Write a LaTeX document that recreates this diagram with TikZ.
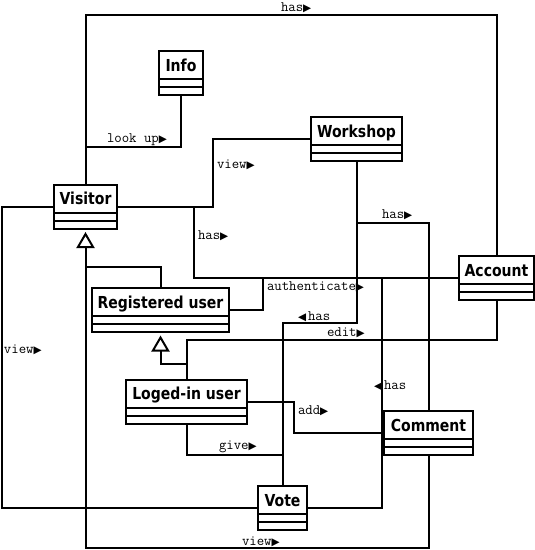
\documentclass[tikz,border=0pt]{standalone}
\usepackage{fontspec}
\usetikzlibrary{arrows.meta}
\newfontfamily\titlefont[FakeStretch=0.85]{DejaVu Sans}
\newfontfamily\symfont{DejaVu Sans}
\newcommand\myR{{\symfont\fontsize{10.5}{11}\selectfont ▶}}
\newcommand\myL{{\symfont\fontsize{10.5}{11}\selectfont ◀}}
\begin{document}
\begin{tikzpicture}[x=1pt,y=-1pt,line width=2pt,
  cls/.style={draw, fill=white, minimum width=#1, minimum height=44pt, inner sep=0pt,
    path picture={\draw[line width=2pt]
      ([yshift=16pt]path picture bounding box.south west) -- ([yshift=16pt]path picture bounding box.south east)
      ([yshift=8pt]path picture bounding box.south west) -- ([yshift=8pt]path picture bounding box.south east);}},
  ttl/.style={font=\titlefont\bfseries\fontsize{16.5}{18}\selectfont, inner sep=0pt, text height=12pt, text depth=0pt},
  gen/.style={-{Triangle[open, length=16pt, width=18pt]}, shorten >=2.5pt},
  lbl/.style={font=\ttfamily\fontsize{14.4}{16}\selectfont, inner sep=0pt, anchor=base west}]
\fill[white] (0,0) rectangle (535,550);
\useasboundingbox (0,0) rectangle (535,550);
% classes
\node[cls=44pt] (info) at (181,73) {};
\node[cls=63pt] (vis) at (85.5,206.5) {};
\node[cls=91pt] (ws) at (356.5,139) {};
\node[cls=75pt] (acc) at (496.5,278) {};
\node[cls=137pt] (reg) at (160.5,310) {};
\node[cls=121pt] (log) at (186.5,401.5) {};
\node[cls=89pt] (com) at (428.5,433) {};
\node[cls=49pt] (vote) at (282.5,508) {};
\node[ttl] (infoT) at ([yshift=-15pt]info.north) {Info};
\node[ttl] (visT) at ([yshift=-15pt]vis.north) {Visitor};
\node[ttl] (wsT) at ([yshift=-15pt]ws.north) {Workshop};
\node[ttl] (accT) at ([yshift=-15pt]acc.north) {Account};
\node[ttl] (regT) at ([yshift=-15pt]reg.north) {Registered user};
\node[ttl] (logT) at ([yshift=-15pt]log.north) {Loged-in user};
\node[ttl] (comT) at ([yshift=-15pt]com.north) {Comment};
\node[ttl] (voteT) at ([yshift=-15pt]vote.north) {Vote};
% connectors
\draw (vis.north) |- (acc.north |- 0,15) -- (acc.north);
\draw (info.south) |- (vis.north |- 0,147);
\draw (vis.east) -- (vis.east -| 213,0) |- (ws.west);
\draw (vis.east) -- (vis.east -| 194,0) |- (acc.west);
\draw (reg.east) -- (reg.east -| 263,0) |- (acc.west);
\draw (ws.south) |- (com.north |- 0,223) -- (com.north);
\draw (ws.south) -- (ws.south |- 0,323) -| (vote.north);
\draw (log.north) |- (acc.south |- 0,340) -- (acc.south);
\draw[gen] (log.north) |- (reg.south |- 0,364) -- (reg.south);
\draw[gen] (reg.north) |- (vis.south |- 0,267) -- (vis.south);
\draw (com.south) |- (vis.south |- 0,548) -- (vis.south |- 0,267);
\draw (vis.west) -- (vis.west -| 2,0) |- (vote.west);
\draw (log.east) -- (log.east -| 294,0) |- (com.west);
\draw (log.south) |- (vote.north |- 0,455);
\draw (vote.east) -- (vote.east -| 382,0) |- (acc.west);
% labels
\node[lbl] (l1) at (280,11) {has\myR};
\node[lbl] (l2) at (106,142) {look up\myR};
\node[lbl] (l3) at (216,168) {view\myR};
\node[lbl] (l4) at (197,239) {has\myR};
\node[lbl] (l5) at (381,218) {has\myR};
\node[lbl] (l6) at (266,290) {authenticate\myR};
\node[lbl] (l7) at (297,320) {\myL\kern2pt has};
\node[lbl] (l8) at (326,336) {edit\myR};
\node[lbl] (l9) at (3,353) {view\myR};
\node[lbl] (l10) at (373,389) {\myL\kern2pt has};
\node[lbl] (l11) at (297,414) {add\myR};
\node[lbl] (l12) at (218,449) {give\myR};
\node[lbl] (l13) at (241,545) {view\myR};
\end{tikzpicture}
\end{document}
